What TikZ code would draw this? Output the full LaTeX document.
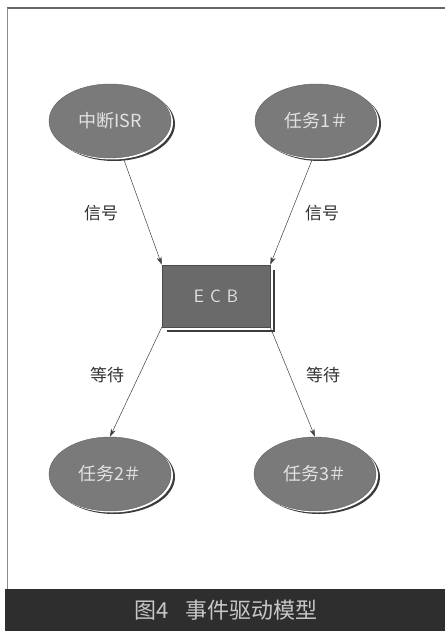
\documentclass[tikz,border=0pt]{standalone}
\usepackage{fontspec}
\newfontfamily\cjk{Noto Sans CJK SC}
\usetikzlibrary{shapes.geometric,shadows,arrows.meta}
\definecolor{ovalfill}{HTML}{7A7A7A}
\definecolor{boxfill}{HTML}{6A6A6A}
\definecolor{rimdark}{HTML}{3C3C3C}
\definecolor{band}{HTML}{2E2E2E}
\definecolor{lbl}{HTML}{E2E2E2}
\tikzset{
  oval/.style={ellipse, minimum width=122pt, minimum height=74pt, inner sep=0pt,
    fill=ovalfill, draw=ovalfill!80!black, line width=0.4pt, text=lbl, font=\cjk\fontsize{18}{18}\selectfont,
    copy shadow={shadow xshift=4pt, shadow yshift=-3pt, fill=rimdark, draw=none},
    copy shadow={shadow xshift=2pt, shadow yshift=-1.5pt, fill=white, draw=none}},
  ecbbox/.style={rectangle, minimum width=108pt, minimum height=62pt, inner sep=0pt,
    fill=boxfill, draw=black!70, line width=0.5pt, text=lbl, font=\sffamily\fontsize{18}{18}\selectfont,
    copy shadow={shadow xshift=5pt, shadow yshift=-5pt, fill=rimdark, draw=none},
    copy shadow={shadow xshift=2.5pt, shadow yshift=-2.5pt, fill=white, draw=none}},
  conn/.style={-{Stealth[length=8pt,width=5pt]}, draw=black!75, line width=0.5pt},
  elabel/.style={font=\cjk\fontsize{17}{17}\selectfont, text=black!80},
}
\begin{document}
\begin{tikzpicture}[x=1pt,y=-1pt]
\useasboundingbox (0,0) rectangle (445,631);
\fill[white] (0,0) rectangle (445,631);
% frame
\draw[black!60, line width=1.3pt] (7,8) -- (445,8);
\draw[black!45, line width=1pt] (7,8) -- (7,590);
\fill[band] (5,589) rectangle (445,631);
\node[font=\cjk\fontsize{22}{22}\selectfont, text=black!22] (cap) at (226,610) {图4\hspace{0.8em}事件驱动模型};
% nodes
\node[oval] (isr) at (110,121) {中断ISR};
\node[oval] (t1) at (316,121) {任务1＃};
\node[ecbbox] (ecb) at (216,296) {E\,\,C\,\,B};
\node[oval] (t2) at (110,474) {任务2＃};
\node[oval] (t3) at (315,474) {任务3＃};
% connectors
\coordinate (isrb) at (124,160);
\coordinate (t1b) at (312,160);
\draw[conn] (isrb) -- (ecb.north west);
\draw[conn] (t1b) -- (ecb.north east);
\draw[conn] (ecb.south west) -- (t2.north);
\draw[conn] (ecb.south east) -- (t3.north);
% labels
\node[elabel] (l1) at (101,213) {信号};
\node[elabel] (l2) at (322,213) {信号};
\node[elabel] (l3) at (107,375) {等待};
\node[elabel] (l4) at (323,375) {等待};
\end{tikzpicture}
\end{document}
